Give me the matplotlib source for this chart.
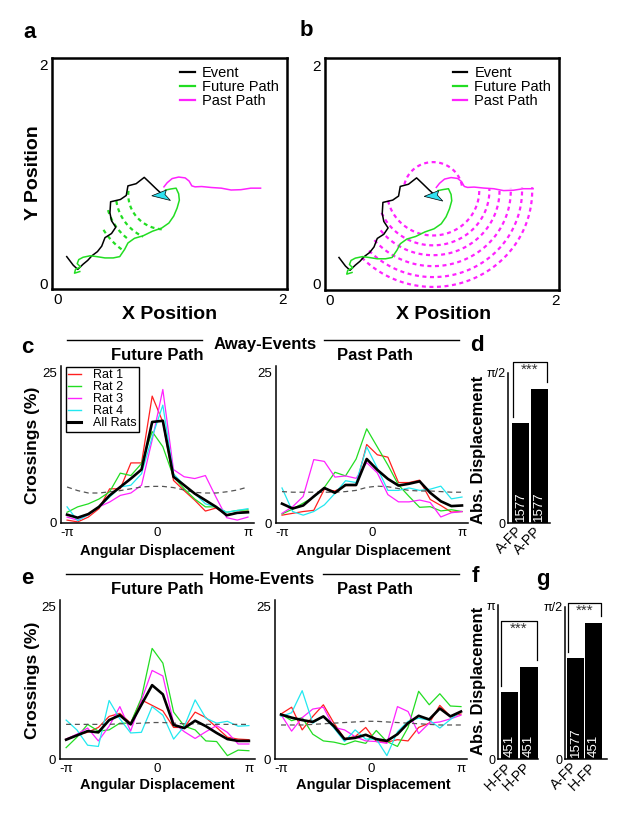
import numpy as np
import matplotlib
matplotlib.use("Agg")
import matplotlib.pyplot as plt
from matplotlib.lines import Line2D
from matplotlib.patches import Polygon

plt.rcParams['font.family'] = ['Liberation Sans', 'DejaVu Sans']

W, H = 628, 816

# ---------------- panels a / b : one example event (arena units 0..2) ----------------
event_x = [0.082, 0.140, 0.180, 0.227, 0.268, 0.306, 0.355, 0.393, 0.422, 0.480, 0.518,
           0.480, 0.466, 0.472, 0.559, 0.611, 0.626, 0.699, 0.771, 0.830, 0.879, 0.932]
event_y = [0.242, 0.163, 0.125, 0.172, 0.207, 0.250, 0.288, 0.338, 0.416, 0.454, 0.512,
           0.571, 0.643, 0.745, 0.766, 0.803, 0.891, 0.911, 0.969, 0.911, 0.862, 0.812]

future_x = [0.961, 1.004, 1.054, 1.077, 1.083, 1.063, 1.033, 0.990, 0.926, 0.844, 0.763, 0.684,
            0.626, 0.597, 0.553, 0.495, 0.422, 0.349, 0.291, 0.227, 0.189, 0.175, 0.204, 0.160,
            0.151, 0.198]
future_y = [0.853, 0.862, 0.870, 0.818, 0.760, 0.687, 0.614, 0.550, 0.504, 0.475, 0.434, 0.410,
            0.367, 0.309, 0.242, 0.230, 0.230, 0.242, 0.250, 0.236, 0.215, 0.178, 0.148, 0.125,
            0.090, 0.105]

past_x = [0.946, 0.975, 1.019, 1.077, 1.135, 1.170, 1.194, 1.223, 1.281, 1.368, 1.456, 1.543,
          1.630, 1.718, 1.805]
past_y = [0.882, 0.920, 0.958, 0.972, 0.964, 0.935, 0.891, 0.882, 0.885, 0.876, 0.870, 0.853,
          0.856, 0.870, 0.870]

arrow_x = [0.838, 0.967, 0.955, 1.004]
arrow_y = [0.800, 0.853, 0.812, 0.757]

# equal-distance arcs: centre, radius, start/end angle (deg)
a_center = (0.949, 0.812)
a_arc_r = [0.32, 0.43, 0.52, 0.63]
a_arc_start = [174, 188, 196, 211]
a_arc_end = [266, 244, 232, 234]

b_center = (0.917, 0.853)
b_arc_r = [0.26, 0.41, 0.50, 0.59, 0.69, 0.79, 0.88]
b_arc_start = [10, 193, 204, 218, 221, 224, 224]
b_arc_end = [169, 362, 362, 362, 362, 362, 362]

# ---------------- panels c / e : crossings vs angular displacement ----------------
bins = np.linspace(-np.pi, np.pi, 18)

af_rat1 = [0.4, 0.1, 0.9, 2.3, 5.6, 5.6, 9.9, 9.9, 21.0, 16.7, 7.0, 5.3, 3.7, 1.9, 2.4, 1.3, 1.6, 1.9]
af_rat2 = [1.7, 2.6, 3.1, 3.9, 5.1, 8.2, 7.8, 9.8, 15.1, 12.6, 7.6, 5.6, 3.9, 2.6, 2.6, 1.7, 2.0, 2.1]
af_rat3 = [0.9, 0.4, 1.3, 2.6, 3.4, 4.5, 4.9, 6.2, 13.7, 22.1, 8.8, 7.6, 7.3, 7.8, 4.2, 0.8, 0.4, 0.9]
af_rat4 = [2.6, 0.3, 1.3, 2.6, 4.2, 5.9, 6.2, 8.1, 14.2, 19.5, 8.1, 6.2, 4.8, 3.1, 2.6, 1.7, 2.0, 2.3]
af_all = [1.3, 0.8, 1.4, 2.6, 4.5, 5.9, 7.3, 8.8, 16.7, 16.9, 7.6, 6.2, 4.8, 3.7, 2.6, 1.2, 1.6, 1.7]
af_shuf = [5.9, 5.3, 4.9, 4.9, 5.1, 5.3, 5.6, 5.9, 6.0, 6.0, 5.8, 5.4, 5.0, 4.9, 4.9, 5.1, 5.4, 5.9]

ap_rat1 = [1.3, 1.6, 1.9, 2.1, 5.6, 5.3, 6.2, 6.2, 13.0, 11.3, 10.9, 6.7, 6.7, 7.1, 3.9, 2.9, 1.8, 1.9]
ap_rat2 = [1.5, 2.3, 3.3, 4.3, 5.9, 8.4, 7.8, 10.6, 15.6, 12.6, 9.6, 6.3, 4.4, 2.6, 2.7, 2.0, 2.2, 1.9]
ap_rat3 = [1.6, 2.7, 4.4, 10.5, 10.2, 7.6, 7.8, 7.4, 10.0, 8.3, 4.7, 3.5, 3.5, 3.8, 3.4, 1.0, 1.7, 1.9]
ap_rat4 = [5.8, 1.9, 1.3, 1.9, 3.0, 4.9, 7.0, 6.7, 12.6, 9.1, 5.4, 5.4, 5.8, 5.4, 5.6, 6.1, 4.0, 4.3]
ap_all = [3.2, 2.4, 2.9, 4.4, 5.8, 5.0, 6.3, 6.3, 10.6, 8.8, 7.3, 6.2, 6.5, 6.9, 5.0, 3.6, 2.8, 2.9]
ap_shuf = [5.2, 5.1, 5.1, 5.1, 5.1, 5.1, 5.2, 5.4, 5.9, 6.1, 6.0, 5.7, 5.4, 5.3, 5.3, 5.2, 5.1, 5.1]

hf_rat1 = [3.3, 4.0, 4.4, 5.2, 7.0, 7.5, 5.9, 9.7, 8.8, 7.9, 5.2, 5.2, 7.7, 6.8, 5.2, 3.6, 3.3, 3.2]
hf_rat2 = [1.9, 3.6, 5.7, 4.6, 4.8, 5.9, 5.9, 10.0, 18.1, 15.7, 7.7, 5.4, 4.8, 3.0, 2.9, 0.6, 1.5, 1.4]
hf_rat3 = [3.3, 4.1, 5.1, 3.0, 5.4, 8.6, 4.6, 9.6, 14.5, 13.6, 5.9, 4.5, 3.4, 4.5, 5.5, 4.4, 2.5, 2.5]
hf_rat4 = [6.4, 4.8, 2.3, 2.1, 9.6, 6.6, 4.3, 4.4, 8.6, 7.2, 3.3, 5.4, 9.7, 6.7, 5.9, 6.2, 5.4, 5.5]
hf_all = [3.2, 3.9, 4.6, 4.4, 6.4, 7.2, 5.7, 8.9, 12.1, 10.6, 5.6, 5.1, 6.3, 5.4, 4.3, 3.3, 3.0, 3.0]
hf_shuf = [5.7, 5.7, 5.7, 5.7, 5.7, 5.8, 5.8, 5.9, 6.0, 6.0, 5.9, 5.8, 5.8, 5.7, 5.7, 5.7, 5.7, 5.7]

hp_rat1 = [7.4, 8.5, 4.8, 7.0, 8.9, 5.9, 3.4, 3.7, 5.2, 2.9, 2.8, 3.2, 3.0, 5.2, 5.9, 8.8, 7.0, 7.4]
hp_rat2 = [7.4, 6.3, 6.8, 4.1, 3.0, 2.8, 2.4, 3.0, 2.6, 4.7, 2.9, 2.1, 5.2, 11.1, 8.9, 10.7, 8.7, 8.6]
hp_rat3 = [7.3, 4.6, 6.8, 8.2, 8.5, 5.2, 4.8, 3.7, 3.0, 2.9, 2.6, 8.6, 7.8, 4.2, 5.9, 6.1, 6.6, 7.2]
hp_rat4 = [7.0, 7.6, 11.2, 5.9, 7.0, 5.1, 2.9, 4.8, 3.3, 3.3, 0.6, 4.5, 6.2, 6.7, 6.4, 5.1, 6.5, 7.8]
hp_all = [7.3, 6.8, 6.4, 6.1, 7.0, 5.4, 3.3, 3.5, 4.0, 3.3, 3.0, 4.1, 5.9, 7.1, 6.5, 8.3, 7.0, 7.8]
hp_shuf = [5.6, 5.6, 5.6, 5.7, 5.8, 5.9, 6.0, 6.1, 6.2, 6.2, 6.1, 6.0, 5.9, 5.8, 5.7, 5.6, 5.6, 5.6]

rat_names = ['Rat 1', 'Rat 2', 'Rat 3', 'Rat 4', 'All Rats']

# ---------------- panels d / f / g : mean absolute displacement (rad) ----------------
d_labels = ['A-FP', 'A-PP']
d_vals = [1.049, 1.398]
d_counts = ['1577', '1577']

f_labels = ['H-FP', 'H-PP']
f_vals = [1.376, 1.873]
f_counts = ['451', '451']

g_labels = ['A-FP', 'H-FP']
g_vals = [1.04, 1.40]
g_counts = ['1577', '451']

RED, GREEN, MAGENTA, CYAN = '#ff2020', '#22dd22', '#ff22ff', '#22e8f0'
RAT_COLORS = [RED, GREEN, MAGENTA, CYAN]

fig = plt.figure(figsize=(W / 100, H / 100), dpi=100)
fig.patch.set_facecolor('white')


def axes_px(x0, y0, x1, y1):
    return fig.add_axes([x0 / W, 1 - y1 / H, (x1 - x0) / W, (y1 - y0) / H])


def text_px(x, y, s, **kw):
    fig.text(x / W, 1 - y / H, s, ha='center', va='center', **kw)


def hline_px(x0, x1, y):
    fig.add_artist(Line2D([x0 / W, x1 / W], [1 - y / H] * 2, color='k', lw=1.0))


def path_panel(ax, center, radii, starts, ends, arc_color, xlim):
    cx, cy = center
    for r, a0, a1 in zip(radii, starts, ends):
        t = np.radians(np.linspace(a0, a1, 120))
        ax.plot(cx + r * np.cos(t), cy + r * np.sin(t), color=arc_color, lw=1.6,
                linestyle=(0, (1.8, 1.6)), zorder=1)
    ax.plot(event_x, event_y, color='k', lw=1.1, zorder=2)
    ax.plot(future_x, future_y, color=GREEN, lw=1.1, zorder=2)
    ax.plot(past_x, past_y, color=MAGENTA, lw=1.1, zorder=2)
    ax.add_patch(Polygon(list(zip(arrow_x, arrow_y)), closed=True, facecolor='#30e0f0',
                         edgecolor='k', lw=0.5, zorder=3))
    ax.set_xlim(*xlim)
    ax.set_ylim(-0.055, 2.064)
    ax.set_xticks([0, 2])
    ax.set_yticks([0, 2])
    ax.tick_params(length=0, labelsize=11, pad=3)
    for s in ax.spines.values():
        s.set_linewidth(1.8)
    handles = [Line2D([], [], color='k', lw=1.6), Line2D([], [], color=GREEN, lw=1.6),
               Line2D([], [], color=MAGENTA, lw=1.6)]
    ax.legend(handles, ['Event', 'Future Path', 'Past Path'], loc='upper left',
              bbox_to_anchor=(0.545, 0.965), frameon=False, fontsize=10.5,
              handlelength=1.0, handletextpad=0.5, labelspacing=0.0,
              borderpad=0, borderaxespad=0)


def line_panel(ax, rats, all_rats, shuffle, legend=False):
    for vals, c in zip(rats, RAT_COLORS):
        ax.plot(bins, vals, color=c, lw=0.9)
    ax.plot(bins, shuffle, color='#555555', lw=0.9, linestyle=(0, (4, 3)))
    ax.plot(bins, all_rats, color='k', lw=1.9)
    ax.set_xlim(-np.pi - 0.21, np.pi + 0.21)
    ax.set_ylim(0, 26)
    ax.set_xticks([-np.pi, 0, np.pi])
    ax.set_xticklabels(['-π', '0', 'π'])
    ax.set_yticks([0, 25])
    ax.tick_params(length=0, labelsize=9.5, pad=3)
    for s in ['top', 'right']:
        ax.spines[s].set_visible(False)
    for s in ['left', 'bottom']:
        ax.spines[s].set_linewidth(1.1)
    if legend:
        handles = [Line2D([], [], color=c, lw=1.0) for c in RAT_COLORS]
        handles.append(Line2D([], [], color='k', lw=2.2))
        leg = ax.legend(handles, rat_names, loc='upper left', bbox_to_anchor=(0.025, 0.995),
                        fontsize=9, handlelength=1.0, handletextpad=1.0, labelspacing=0.0,
                        borderpad=0.2, borderaxespad=0, fancybox=False, framealpha=1)
        leg.get_frame().set_edgecolor('k')
        leg.get_frame().set_linewidth(1.0)


def bar_panel(ax, labels, vals, counts, ymax, ylab, xlim, top_frac):
    x = [1, 2]
    ax.bar(x, vals, width=0.93, color='k')
    ax.set_xlim(*xlim)
    ax.set_ylim(0, ymax)
    ax.set_yticks([0, ymax])
    ax.set_yticklabels(['0', ylab])
    ax.set_xticks(x)
    ax.set_xticklabels(labels, rotation=45, ha='right', va='center', rotation_mode='anchor')
    ax.tick_params(axis='y', length=0, labelsize=9, pad=2)
    ax.tick_params(axis='x', length=0, labelsize=10, pad=4)
    for s in ['top', 'right']:
        ax.spines[s].set_visible(False)
    for s in ['left', 'bottom']:
        ax.spines[s].set_linewidth(1.1)
    for xi, n in zip(x, counts):
        ax.text(xi, 0.012 * ymax, n, rotation=90, ha='center', va='bottom',
                color='w', fontsize=9.5)
    top = top_frac * ymax
    lx, rx = 0.58, 2.42
    ax.plot([lx, lx, rx, rx], [vals[0] + 0.04 * ymax, top, top, vals[1] + 0.047 * ymax],
            color='k', lw=0.9, clip_on=False)
    ax.text(1.5, top - 0.004 * ymax, '***', ha='center', va='top', fontsize=11,
            color='#333333', clip_on=False)


# ---- a ----
ax_a = axes_px(52, 58, 287, 289)
path_panel(ax_a, a_center, a_arc_r, a_arc_start, a_arc_end, GREEN, (-0.049, 2.04))
# ---- b ----
ax_b = axes_px(325, 58, 559, 290)
path_panel(ax_b, b_center, b_arc_r, b_arc_start, b_arc_end, MAGENTA, (-0.042, 2.035))

text_px(170, 315, 'X Position', fontsize=14, fontweight='bold')
text_px(444, 315, 'X Position', fontsize=14, fontweight='bold')
text_px(33, 173, 'Y Position', fontsize=14, fontweight='bold', rotation=90)

# ---- c ----
ax_c1 = axes_px(61, 366, 254, 522.5)
line_panel(ax_c1, [af_rat1, af_rat2, af_rat3, af_rat4], af_all, af_shuf, legend=True)
ax_c2 = axes_px(276, 366, 468, 523)
line_panel(ax_c2, [ap_rat1, ap_rat2, ap_rat3, ap_rat4], ap_all, ap_shuf)

hline_px(67, 202, 340)
hline_px(324, 459, 340)
text_px(265, 344, 'Away-Events', fontsize=12, fontweight='bold')
text_px(157, 356, 'Future Path', fontsize=12, fontweight='bold')
text_px(375, 356, 'Past Path', fontsize=12, fontweight='bold')
text_px(32, 445, 'Crossings (%)', fontsize=12.5, fontweight='bold', rotation=90)
text_px(157, 551, 'Angular Displacement', fontsize=10.5, fontweight='bold')
text_px(373, 551, 'Angular Displacement', fontsize=10.5, fontweight='bold')

# ---- e ----
ax_e1 = axes_px(60, 600, 255, 759.3)
line_panel(ax_e1, [hf_rat1, hf_rat2, hf_rat3, hf_rat4], hf_all, hf_shuf)
ax_e2 = axes_px(275, 600, 467, 759.3)
line_panel(ax_e2, [hp_rat1, hp_rat2, hp_rat3, hp_rat4], hp_all, hp_shuf)

hline_px(66, 202, 574)
hline_px(323, 459, 574)
text_px(262, 579, 'Home-Events', fontsize=12, fontweight='bold')
text_px(157, 590, 'Future Path', fontsize=12, fontweight='bold')
text_px(375, 590, 'Past Path', fontsize=12, fontweight='bold')
text_px(33, 680, 'Crossings (%)', fontsize=12.5, fontweight='bold', rotation=90)
text_px(157, 785, 'Angular Displacement', fontsize=10.5, fontweight='bold')
text_px(373, 785, 'Angular Displacement', fontsize=10.5, fontweight='bold')

# ---- d / f / g ----
ax_d = axes_px(508, 372.7, 550, 523.3)
bar_panel(ax_d, d_labels, d_vals, d_counts, np.pi / 2, 'π/2', (0.3, 2.6), 1.073)
text_px(478, 450, 'Abs. Displacement', fontsize=12, fontweight='bold', rotation=90)

ax_f = axes_px(498.3, 605, 538.3, 759.3)
bar_panel(ax_f, f_labels, f_vals, f_counts, np.pi, 'π', (0.42, 2.5), 0.896)
text_px(478, 681, 'Abs. Displacement', fontsize=12, fontweight='bold', rotation=90)

ax_g = axes_px(565, 606.7, 606.7, 759.3)
bar_panel(ax_g, g_labels, g_vals, g_counts, np.pi / 2, 'π/2', (0.4, 2.72), 1.022)

# ---- panel letters ----
for s, x, y in [('a', 30, 32), ('b', 306, 31), ('c', 27, 347), ('d', 477, 345),
                ('e', 27, 579), ('f', 475, 576), ('g', 543, 579)]:
    text_px(x, y, s, fontsize=16, fontweight='bold')

fig.savefig('out.png', dpi=100, facecolor='white')
